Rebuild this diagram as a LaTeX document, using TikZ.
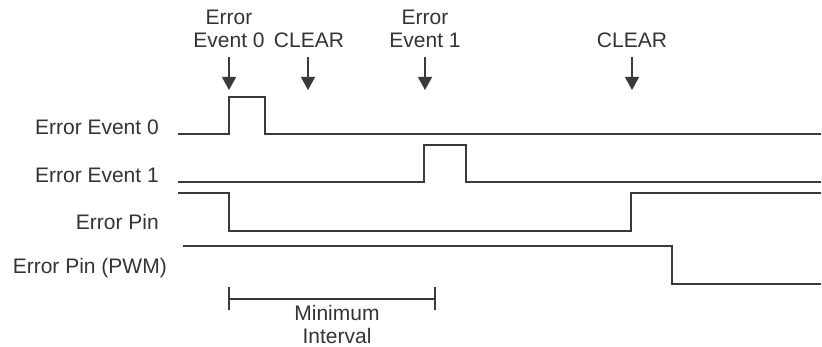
\documentclass[tikz,border=0pt]{standalone}
\usepackage{fontspec}
\setmainfont{Liberation Sans}
\usetikzlibrary{arrows.meta}
\definecolor{ink}{HTML}{3A3A3A}
\definecolor{txt}{HTML}{333333}
\begin{document}
\begin{tikzpicture}[x=1pt,y=-1pt,
  sig/.style={draw=ink,line width=1.3pt,line join=miter},
  lbl/.style={inner sep=0pt,text=txt,font=\fontsize{21}{23}\selectfont},
  arr/.style={draw=ink,line width=1.3pt,-{Triangle[width=14pt,length=13pt]}}]
\useasboundingbox (0,0) rectangle (822,347);
% row labels
\node[lbl,anchor=base east] (rE0) at (159,135) {Error Event 0};
\node[lbl,anchor=base east] (rE1) at (159,183) {Error Event 1};
\node[lbl,anchor=base east] (rP) at (159,230) {Error Pin};
\node[lbl,anchor=base east] (rPWM) at (167,274) {Error Pin (PWM)};
% top labels
\node[lbl,anchor=base] (tE0a) at (229,25) {Error};
\node[lbl,anchor=base] (tE0b) at (229,48) {Event 0};
\node[lbl,anchor=base] (tC0) at (309,48) {CLEAR};
\node[lbl,anchor=base] (tE1a) at (425,25) {Error};
\node[lbl,anchor=base] (tE1b) at (425,48) {Event 1};
\node[lbl,anchor=base] (tC1) at (632,48) {CLEAR};
% arrow tips
\coordinate (aE0) at (229,90);
\coordinate (aC0) at (308,90);
\coordinate (aE1) at (425,90);
\coordinate (aC1) at (632,90);
\draw[arr] (229,57) -- (aE0);
\draw[arr] (308,57) -- (aC0);
\draw[arr] (425,57) -- (aE1);
\draw[arr] (632,57) -- (aC1);
% signals
\draw[sig] (178,134) -- (229,134) -- (229,97) -- (265,97) -- (265,134) -- (821,134);
\draw[sig] (178,182) -- (424,182) -- (424,145) -- (466,145) -- (466,182) -- (821,182);
\draw[sig] (178,193) -- (229,193) -- (229,231) -- (631,231) -- (631,193) -- (821,193);
\draw[sig] (183,246) -- (672,246) -- (672,284) -- (821,284);
% minimum interval
\coordinate (mL) at (229,299);
\coordinate (mR) at (435,299);
\draw[sig] (229,287) -- (229,310);
\draw[sig] (435,287) -- (435,310);
\draw[sig] (mL) -- (mR);
\node[lbl,anchor=base] (mi1) at (337,320) {Minimum};
\node[lbl,anchor=base] (mi2) at (337,344) {Interval};
\end{tikzpicture}
\end{document}
